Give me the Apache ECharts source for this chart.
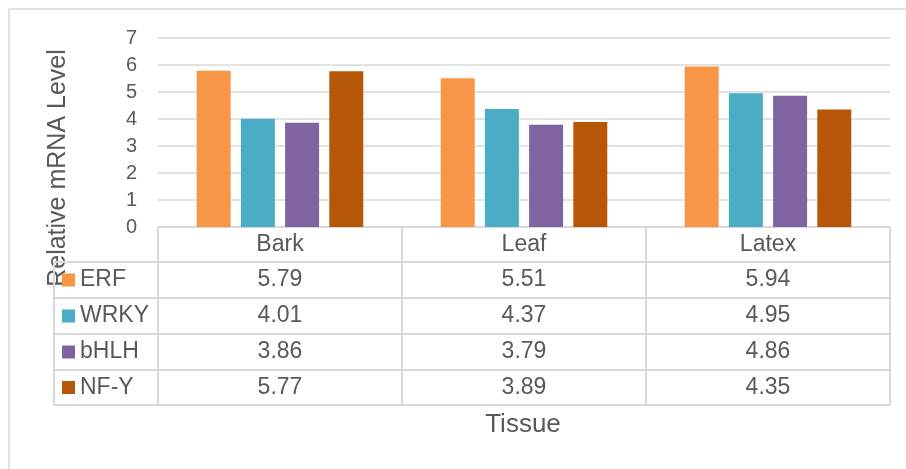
<!DOCTYPE html>
<html>
<head>
<meta charset="utf-8">
<script src="https://cdn.jsdelivr.net/npm/echarts@6/dist/echarts.min.js"></script>
<style>
  html, body { margin: 0; padding: 0; background: #fff; }
  #chart { width: 906px; height: 469px; }
</style>
</head>
<body>
<div id="chart"></div>
<script>
// data
const tissues = ['Bark', 'Leaf', 'Latex']
const genes = ['ERF', 'WRKY', 'bHLH', 'NF-Y']
const erf = [5.79, 5.51, 5.94]
const wrky = [4.01, 4.37, 4.95]
const bhlh = [3.86, 3.79, 4.86]
const nfy = [5.77, 3.89, 4.35]
const yTicks = [0, 1, 2, 3, 4, 5, 6, 7]

const seriesValues = [erf, wrky, bhlh, nfy]
const colors = ['#F79646', '#4BACC6', '#8064A2', '#B65708']

const font = 'Liberation Sans, Arial, sans-serif'
const textColor = '#595959'
const lineColor = '#d9d9d9'

// plot / table layout
const plotLeft = 158
const plotRight = 890
const plotTop = 38
const plotBottom = 227
const legendLeft = 54
const rowEdges = [227, 262, 298, 334, 370, 405]

const chart = echarts.init(document.getElementById('chart'))

function buildTable() {
  const g = []
  const colW = (plotRight - plotLeft) / tissues.length
  const line = (x1, y1, x2, y2) => ({
    type: 'line', silent: true,
    shape: { x1, y1, x2, y2 },
    style: { stroke: lineColor, lineWidth: 2 }
  })
  // horizontal lines
  g.push(line(plotLeft, rowEdges[0], plotRight, rowEdges[0]))
  for (let i = 1; i < rowEdges.length; i++) {
    g.push(line(legendLeft, rowEdges[i], plotRight, rowEdges[i]))
  }
  // vertical lines
  g.push(line(legendLeft, rowEdges[1], legendLeft, rowEdges[rowEdges.length - 1]))
  for (let c = 0; c <= tissues.length; c++) {
    const x = plotLeft + c * colW
    g.push(line(x, rowEdges[0], x, rowEdges[rowEdges.length - 1]))
  }
  const txt = (text, x, y, align, size) => ({
    type: 'text', silent: true, x, y,
    style: { text, align, verticalAlign: 'middle', fill: textColor, font: size + 'px ' + font }
  })
  // header
  tissues.forEach((t, c) => {
    g.push(txt(t, plotLeft + (c + 0.5) * colW, (rowEdges[0] + rowEdges[1]) / 2, 'center', 23))
  })
  // rows
  genes.forEach((name, r) => {
    const yc = (rowEdges[r + 1] + rowEdges[r + 2]) / 2
    g.push({
      type: 'rect', silent: true,
      shape: { x: 62, y: yc - 6.5, width: 13, height: 13 },
      style: { fill: colors[r] }
    })
    g.push(txt(name, 80, yc, 'left', 23))
    seriesValues[r].forEach((v, c) => {
      g.push(txt(v.toFixed(2), plotLeft + (c + 0.5) * colW, yc, 'center', 23))
    })
  })
  return g
}

chart.setOption({
  animation: false,
  grid: {
    left: plotLeft,
    right: 906 - plotRight,
    top: plotTop,
    bottom: 469 - plotBottom,
    containLabel: false
  },
  xAxis: {
    type: 'category',
    data: tissues,
    axisLine: { show: false },
    axisTick: { show: false },
    axisLabel: { show: false }
  },
  yAxis: {
    type: 'value',
    min: yTicks[0],
    max: yTicks[yTicks.length - 1],
    interval: 1,
    axisLine: { show: false },
    axisTick: { show: false },
    axisLabel: { color: textColor, fontSize: 20, fontFamily: font, margin: 21 },
    splitLine: { lineStyle: { color: lineColor, width: 1.5 } }
  },
  series: genes.map((name, i) => ({
    name,
    type: 'bar',
    data: seriesValues[i],
    barWidth: 34,
    barGap: '30%',
    itemStyle: { color: colors[i] }
  })),
  graphic: [
    {
      type: 'rect', silent: true,
      shape: { x: 9, y: 9, width: 920, height: 480 },
      style: { fill: 'none', stroke: lineColor, lineWidth: 1.5 }
    },
    {
      type: 'text', silent: true, x: 58, y: 168, rotation: Math.PI / 2,
      style: {
        text: 'Relative mRNA Level', align: 'center', verticalAlign: 'middle',
        fill: textColor, font: '25px ' + font
      }
    },
    {
      type: 'text', silent: true, x: 523, y: 425,
      style: {
        text: 'Tissue', align: 'center', verticalAlign: 'middle',
        fill: textColor, font: '26px ' + font
      }
    }
  ].concat(buildTable())
})
</script>
</body>
</html>
